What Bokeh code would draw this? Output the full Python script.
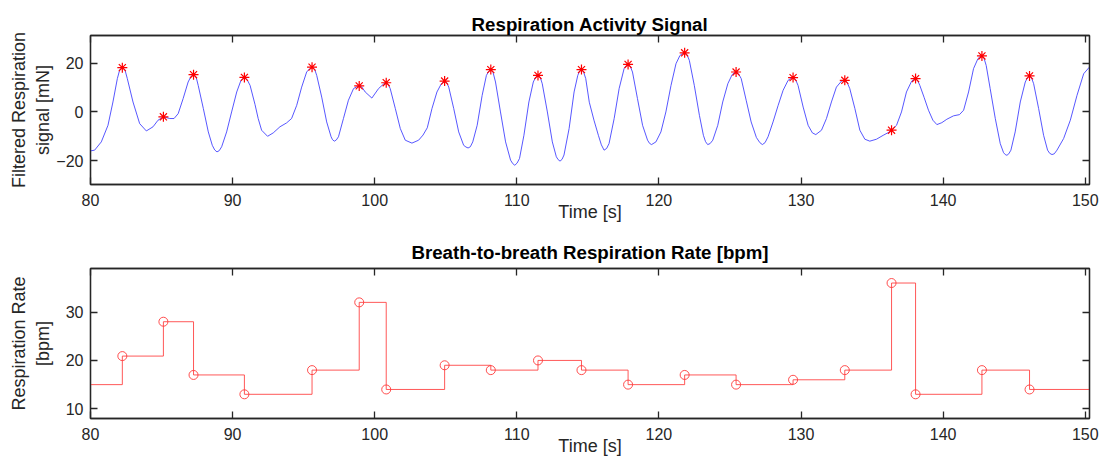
from bokeh.plotting import figure
from bokeh.layouts import column
from bokeh.models import LinearAxis, FixedTicker, Range1d
from bokeh.embed import file_html
from bokeh.resources import INLINE

# ---------------- data ----------------
# filtered respiration signal [mN] vs time [s]
sig_t = [80.00, 80.29, 80.76, 81.23, 81.58, 81.89, 82.24, 82.59, 82.99, 83.46,
         83.93, 84.40, 84.75, 85.13, 85.58, 85.88, 86.17, 86.52, 86.87, 87.25,
         87.58, 87.94, 88.29, 88.57, 88.90, 89.23, 89.58, 89.93, 90.29, 90.59,
         90.83, 91.23, 91.58, 91.80, 92.04, 92.46, 92.86, 93.33, 93.80, 94.15,
         94.51, 94.86, 95.21, 95.59, 95.92, 96.27, 96.62, 96.93, 97.16, 97.45,
         97.80, 98.15, 98.51, 98.91, 99.33, 99.80, 100.27, 100.81, 101.09, 101.45,
         101.80, 102.15, 102.62, 103.09, 103.40, 103.70, 104.03, 104.38, 104.69, 104.92,
         105.21, 105.56, 105.91, 106.26, 106.57, 106.90, 107.21, 107.56, 107.86, 108.17,
         108.50, 108.85, 109.21, 109.56, 109.86, 110.19, 110.50, 110.85, 111.16, 111.49,
         111.79, 112.15, 112.50, 112.78, 113.04, 113.32, 113.68, 114.03, 114.29, 114.55,
         114.85, 115.10, 115.43, 115.74, 116.14, 116.49, 116.85, 117.20, 117.55, 117.83,
         118.14, 118.49, 118.85, 119.20, 119.48, 119.79, 120.14, 120.49, 120.85, 121.20,
         121.48, 121.81, 122.14, 122.49, 122.85, 123.13, 123.43, 123.79, 124.14, 124.49,
         124.85, 125.15, 125.43, 125.79, 126.14, 126.49, 126.86, 127.28, 127.68, 128.03,
         128.39, 128.74, 129.09, 129.44, 129.79, 130.15, 130.50, 130.80, 131.04, 131.44,
         131.79, 132.14, 132.49, 132.85, 133.08, 133.43, 133.79, 134.14, 134.49, 134.84,
         135.31, 135.78, 136.13, 136.37, 136.72, 137.07, 137.42, 137.78, 138.06, 138.36,
         138.66, 138.97, 139.28, 139.56, 139.91, 140.26, 140.73, 141.15, 141.44, 141.79,
         142.14, 142.45, 142.73, 143.03, 143.31, 143.67, 144.02, 144.25, 144.49, 144.77,
         145.07, 145.43, 145.78, 146.08, 146.37, 146.72, 147.07, 147.35, 147.66, 148.01,
         148.48, 148.95, 149.42, 149.89, 150.29]
sig_v = [-16.0, -15.7, -12.3, -5.5, 4.1, 13.7, 18.2, 13.7, 4.1, -4.8,
         -7.8, -6.1, -3.4, -2.0, -2.7, -2.7, -0.7, 5.5, 12.3, 15.3,
         10.9, 1.4, -8.2, -13.7, -16.4, -14.3, -8.2, 0.0, 8.2, 13.0,
         14.2, 10.9, 3.0, -2.7, -7.5, -10.0, -8.6, -6.1, -4.5, -2.7,
         2.7, 10.2, 16.4, 18.4, 15.0, 6.1, -4.1, -10.2, -12.0, -10.2,
         -2.7, 4.8, 9.6, 10.7, 8.2, 5.7, 9.6, 12.0, 9.6, 1.4,
         -6.8, -11.6, -12.8, -11.6, -9.5, -6.5, 1.4, 8.2, 11.6, 12.7,
         10.2, 1.4, -8.2, -13.7, -14.8, -12.3, -5.5, 6.8, 15.0, 17.4,
         12.3, 0.0, -12.3, -19.8, -21.9, -19.1, -9.6, 4.1, 12.3, 15.0,
         11.6, 0.0, -12.3, -18.4, -20.2, -17.7, -6.8, 8.2, 15.0, 17.4,
         13.7, 4.0, -3.4, -9.6, -15.7, -13.0, -2.7, 9.6, 17.8, 19.5,
         16.4, 5.5, -5.5, -11.6, -13.4, -12.3, -8.2, 0.0, 10.9, 19.8,
         23.2, 24.3, 21.2, 10.9, -1.4, -9.6, -13.4, -11.6, -5.5, 4.1,
         11.6, 15.3, 16.4, 13.7, 4.8, -4.1, -10.5, -13.4, -10.2, -4.1,
         2.7, 8.9, 13.0, 14.1, 10.9, 2.0, -5.5, -8.6, -9.3, -7.5,
         -2.7, 4.1, 10.2, 12.7, 13.0, 9.6, 1.4, -7.5, -11.2, -12.0,
         -11.2, -9.6, -8.5, -7.5, -5.5, 0.0, 8.2, 12.6, 13.7, 10.9,
         6.0, 0.7, -3.4, -5.2, -4.4, -3.0, -1.6, -1.1, 0.7, 8.2,
         17.8, 21.9, 23.0, 19.1, 9.6, -2.7, -13.0, -16.7, -17.8, -15.7,
         -8.2, 4.1, 12.3, 14.8, 11.6, 1.4, -9.6, -15.7, -17.5, -15.7,
         -10.9, -3.4, 6.8, 15.7, 18.4]

# extra readings taken close to the rounded crests and troughs
sig_t_near_extrema = [82.06, 82.42, 87.07, 87.43, 91.01, 95.41, 95.77, 98.73, 99.09,
                      100.63, 100.95, 105.07, 108.01, 108.33, 111.33, 111.65, 114.42,
                      114.70, 117.69, 117.98, 121.65, 121.97, 125.29, 125.60, 129.27,
                      129.61, 133.24, 137.92, 138.21, 142.59, 142.88, 145.93, 146.22,
                      88.74, 89.06, 97.03, 97.30, 106.42, 106.73, 109.71, 110.02,
                      112.91, 113.18, 115.95, 116.32, 119.34, 123.28, 123.60, 127.10,
                      127.47, 144.37, 144.62, 147.50, 147.82]
sig_v_near_extrema = [17.4, 17.4, 14.6, 14.4, 13.4, 17.7, 17.6, 10.3, 10.3,
                      11.5, 11.3, 12.0, 16.6, 16.2, 14.3, 14.2, 16.8,
                      16.4, 19.0, 18.8, 23.9, 23.6, 16.0, 15.7, 13.7,
                      13.4, 12.2, 13.3, 12.9, 22.7, 22.0, 14.0, 14.0,
                      -15.6, -15.9, -11.4, -11.5, -14.4, -14.3, -21.2, -21.0,
                      -19.6, -19.5, -13.5, -15.0, -12.9, -12.2, -13.0, -12.6,
                      -12.6, -17.5, -17.2, -17.0, -17.2]

# detected breath peaks
peak_t = [82.24, 85.13, 87.25, 90.83, 95.59, 98.91, 100.81, 104.92, 108.17, 111.49,
          114.55, 117.83, 121.81, 125.43, 129.44, 133.08, 136.37, 138.06, 142.73, 146.08]
peak_v = [18.2, -2.0, 15.3, 14.2, 18.4, 10.7, 12.0, 12.7, 17.4, 15.0,
          17.4, 19.5, 24.3, 16.4, 14.1, 13.0, -7.5, 13.7, 23.0, 14.8]

# breath-to-breath respiration rate [bpm], value set at each peak
rate_initial = 15
rates = [20.9, 28, 17, 13, 18, 32, 14, 19, 18, 20,
         18, 15, 17, 15, 16, 18, 36, 13, 18, 14]

x_ticks = [80, 90, 100, 110, 120, 130, 140, 150]
sig_y_ticks = [-20, 0, 20]
rate_y_ticks = [10, 20, 30]
X_START, X_END = 80, 150.3
SIG_YLIM = (-29.8, 31.4)
RATE_YLIM = (8, 39)

# merge all signal readings in time order
_pairs = sorted(zip(sig_t + sig_t_near_extrema, sig_v + sig_v_near_extrema))
line_t = [a for a, _ in _pairs]
line_v = [b for _, b in _pairs]

# ---------------- styling ----------------
FONT = "Liberation Sans"
AX_COL = "#262626"


def style_axis(ax, ticks, labels=True):
    ax.ticker = FixedTicker(ticks=ticks)
    ax.major_tick_in = 7
    ax.major_tick_out = 0
    ax.minor_tick_in = 0
    ax.minor_tick_out = 0
    ax.axis_line_color = AX_COL
    ax.axis_line_width = 1.3
    ax.major_tick_line_color = AX_COL
    ax.major_tick_line_width = 1.3
    ax.major_label_text_font = FONT
    ax.axis_label_text_font = FONT
    ax.axis_label_text_font_size = "18px"
    ax.axis_label_text_font_style = "normal"
    ax.axis_label_text_color = AX_COL
    if labels:
        ax.major_label_text_font_size = "16px"
        ax.major_label_text_color = AX_COL
    else:
        ax.major_label_text_font_size = "0px"
        ax.major_label_text_color = None
        ax.major_label_text_alpha = 0
        ax.major_label_standoff = 0


def make_fig(title, ylabel, ylim, yticks, frame_h, top, bottom, ylab_standoff, title_standoff):
    p = figure(frame_width=999, frame_height=frame_h,
               x_range=Range1d(X_START, X_END), y_range=Range1d(*ylim),
               output_backend="svg", toolbar_location=None, title=title,
               min_border_left=90, min_border_right=13,
               min_border_top=top, min_border_bottom=bottom)
    p.background_fill_color = "white"
    p.border_fill_color = "white"
    p.outline_line_color = AX_COL
    p.outline_line_width = 1.3
    p.xgrid.visible = False
    p.ygrid.visible = False
    p.title.text_font = FONT
    p.title.text_font_size = "18.7px"
    p.title.text_font_style = "bold"
    p.title.text_color = "black"
    p.title.align = "center"
    p.title.standoff = title_standoff

    xa = p.xaxis[0]
    style_axis(xa, x_ticks)
    xa.axis_label = "Time [s]"
    xa.major_label_standoff = 9
    xa.axis_label_standoff = -7

    ya = p.yaxis[0]
    style_axis(ya, yticks)
    ya.axis_label = ylabel
    ya.major_label_standoff = 7
    ya.axis_label_standoff = ylab_standoff

    ra = LinearAxis()
    style_axis(ra, yticks, labels=False)
    p.add_layout(ra, "right")
    ta = LinearAxis()
    style_axis(ta, x_ticks, labels=False)
    p.add_layout(ta, "above")
    return p


p1 = make_fig("Respiration Activity Signal", "Filtered Respiration\nsignal [mN]",
              SIG_YLIM, sig_y_ticks, 149, 35, 44, 0, 2)
p1.line(line_t, line_v, line_color="#3a3aff", line_width=1.0, line_alpha=0.85,
        line_join="round")
p1.scatter(peak_t, peak_v, marker="asterisk", size=10, line_color="red",
           line_width=1.2)

p2 = make_fig("Breath-to-breath Respiration Rate [bpm]", "Respiration Rate\n[bpm]",
              RATE_YLIM, rate_y_ticks, 150, 40, 38, 10, 11)
step_x = [X_START] + peak_t + [X_END]
step_y = [rate_initial] + rates + [rates[-1]]
p2.step(step_x, step_y, mode="after", line_color="#ff3b3b", line_width=1.0,
        line_alpha=0.85)
p2.scatter(peak_t, rates, marker="circle", size=9, fill_color=None,
           line_color="#ff3b3b", line_width=1.0, line_alpha=0.9)

layout = column(p1, p2, spacing=0)
open("out.html", "w").write(file_html(layout, INLINE))
